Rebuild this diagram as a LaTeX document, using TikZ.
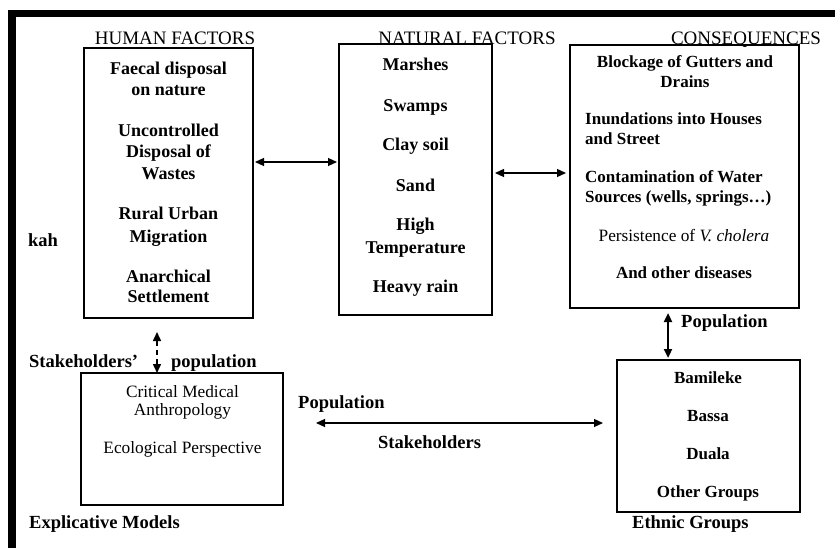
\documentclass[tikz,border=0pt]{standalone}
\usepackage{fontspec}
\setmainfont{Liberation Serif}
\usetikzlibrary{arrows.meta}
\begin{document}
\begin{tikzpicture}[x=1pt,y=-1pt,
  box/.style={draw,rectangle,inner sep=0pt,outer sep=0pt},
  thinbox/.style={box,line width=1.3pt},
  thickbox/.style={box,line width=2pt},
  ttl/.style={anchor=base,inner sep=0pt,font=\fontsize{19}{21}\selectfont},
  bt/.style={anchor=base,inner sep=0pt,font=\fontsize{18}{21}\selectfont\bfseries},
  ct/.style={anchor=base,inner sep=0pt,font=\fontsize{17}{20}\selectfont\bfseries},
  rt/.style={anchor=base,inner sep=0pt,font=\fontsize{17.3}{20}\selectfont},
  lbl/.style={anchor=base west,inner sep=0pt,font=\fontsize{18.5}{21}\selectfont\bfseries},
  tip/.style={-{Triangle[length=9pt,width=8pt]}},
  tips/.style={{Triangle[length=9pt,width=8pt]}-{Triangle[length=9pt,width=8pt]}},
]
\useasboundingbox (0,0) rectangle (835,548);
% frame
\fill (8,10) rectangle (835,17);
\fill (8,10) rectangle (16,548);

% boxes
\node[thinbox,minimum width=169pt,minimum height=270pt] (human) at (168.5,183) {};
\node[thickbox,minimum width=153pt,minimum height=271pt] (natural) at (415.5,179.5) {};
\node[thickbox,minimum width=229pt,minimum height=263pt] (cons) at (684.5,176.5) {};
\node[thinbox,minimum width=183pt,minimum height=152pt] (ethnic) at (708.5,436) {};
\node[box,line width=1.6pt,minimum width=202pt,minimum height=132pt] (expl) at (182,439) {};

% titles
\node[ttl] (t1) at (175,45) {HUMAN FACTORS};
\node[ttl] (t2) at (467,45) {NATURAL FACTORS};
\node[ttl] (t3) at (746,45) {CONSEQUENCES};

% human factors
\node[bt] (h1) at (168.5,75) {Faecal disposal};
\node[bt] (h2) at (168.5,96) {on nature};
\node[bt] (h3) at (168.5,137) {Uncontrolled};
\node[bt] (h4) at (168.5,158) {Disposal of};
\node[bt] (h5) at (168.5,180) {Wastes};
\node[bt] (h6) at (168.5,219) {Rural Urban};
\node[bt] (h7) at (168.5,242) {Migration};
\node[bt] (h8) at (168.5,282) {Anarchical};
\node[bt] (h9) at (168.5,302) {Settlement};

% natural factors
\node[bt] (n1) at (415.5,71) {Marshes};
\node[bt] (n2) at (415.5,112) {Swamps};
\node[bt] (n3) at (415.5,151) {Clay soil};
\node[bt] (n4) at (415.5,192) {Sand};
\node[bt] (n5) at (415.5,230) {High};
\node[bt] (n6) at (415.5,253) {Temperature};
\node[bt] (n7) at (415.5,292) {Heavy rain};

% consequences
\node[ct] (c1) at (685,68) {Blockage of Gutters and};
\node[ct] (c2) at (685,88) {Drains};
\node[ct,anchor=base west] (c3) at (585,125) {Inundations into Houses};
\node[ct,anchor=base west] (c4) at (585,145) {and Street};
\node[ct,anchor=base west] (c5) at (585,183) {Contamination of Water};
\node[ct,anchor=base west] (c6) at (585,203) {Sources (wells, springs\ldots)};
\node[rt] (c7) at (684,241) {Persistence of \textit{V. cholera}};
\node[ct] (c8) at (684,278) {And other diseases};

% ethnic groups
\node[ct] (e1) at (708,383) {Bamileke};
\node[ct] (e2) at (708,421) {Bassa};
\node[ct] (e3) at (708,459) {Duala};
\node[ct] (e4) at (708,497) {Other Groups};

% explicative models
\node[rt] (m1) at (182.5,397) {Critical Medical};
\node[rt] (m2) at (182.5,415) {Anthropology};
\node[rt] (m3) at (182.5,453) {Ecological Perspective};

% labels
\node[lbl] (kah) at (28,246) {kah};
\node[lbl] (stk) at (29,367) {Stakeholders'};
\node[lbl] (pop1) at (171,367) {population};
\node[lbl] (pop2) at (681,327) {Population};
\node[lbl] (pop3) at (298,408) {Population};
\node[lbl] (stk2) at (378,448) {Stakeholders};
\node[lbl] (expm) at (29,528) {Explicative Models};
\node[lbl] (ethg) at (632,528) {Ethnic Groups};

% connectors
\draw[tips,line width=1.2pt,shorten <=2pt,shorten >=2pt] (human.east |- 0,162) -- (natural.west |- 0,162);
\draw[tips,line width=1.2pt,shorten <=3pt,shorten >=4pt] (natural.east |- 0,173) -- (cons.west |- 0,173);
\draw[tips,line width=2.2pt,shorten <=5pt,shorten >=2pt] (cons.south -| 668,0) -- (ethnic.north -| 668,0);
\draw[tips,line width=1.5pt,dashed,dash pattern=on 5pt off 4pt,shorten <=14pt,shorten >=0pt] (human.south -| 157,0) -- (expl.north -| 157,0);
\draw[tips,line width=1.2pt,shorten <=33pt,shorten >=14pt] (expl.east |- 0,423) -- (ethnic.west |- 0,423);
\end{tikzpicture}
\end{document}
